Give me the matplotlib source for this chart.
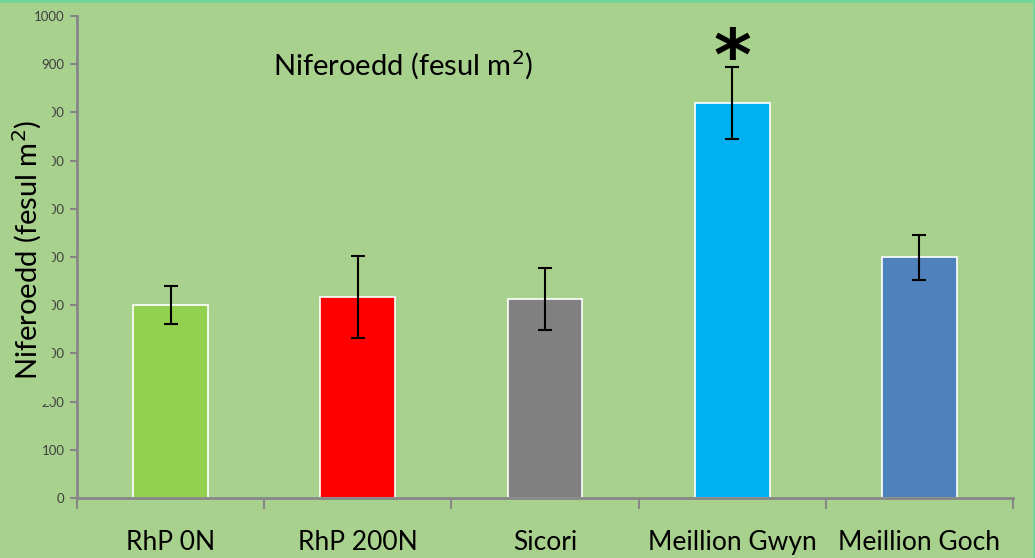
import matplotlib.pyplot as plt
from matplotlib.lines import Line2D
from matplotlib.patches import Rectangle

# data
categories = ["RhP 0N", "RhP 200N", "Sicori", "Meillion Gwyn", "Meillion Goch"]
values = [401, 417, 413, 819, 499]
errors = [39, 86, 65, 75, 46]
colors = ["#92D050", "#FF0000", "#808080", "#00B0F0", "#4F81BD"]
yticks = list(range(0, 1001, 100))
star_idx = 3

BG = "#A9D18E"
BORDER = "#72D59C"
AXIS = "#868686"
W, H = 1035, 558

fig = plt.figure(figsize=(W / 100, H / 100), dpi=100, facecolor=BG)
ax = fig.add_axes([77 / W, 60 / H, 936 / W, 482 / H])
ax.set_facecolor(BG)

x = list(range(len(categories)))
ax.bar(x, values, width=0.4, color=colors, edgecolor="white", linewidth=1.2, zorder=2)
ax.errorbar(x, values, yerr=errors, fmt="none", ecolor="black", elinewidth=1.5,
            capsize=5, capthick=1.5, zorder=3)

ax.set_xlim(-0.5, len(categories) - 0.5)
ax.set_ylim(0, 1000)
ax.set_yticks(yticks)
ax.set_yticklabels([str(t) for t in yticks], fontsize=9.5, color="#404040", family="Lato")
ax.tick_params(axis="y", length=5, width=1.5, color=AXIS, pad=4)

# category labels at bar centres, ticks at category boundaries
ax.set_xticks(x)
ax.set_xticklabels(categories, fontsize=19, family="Lato")
ax.tick_params(axis="x", which="major", length=0, pad=23)
ax.set_xticks([i - 0.5 for i in range(len(categories) + 1)], minor=True)
ax.tick_params(axis="x", which="minor", length=8, width=1.5, color=AXIS)

for s in ["top", "right"]:
    ax.spines[s].set_visible(False)
for s in ["left", "bottom"]:
    ax.spines[s].set_color(AXIS)
    ax.spines[s].set_linewidth(2)

ax.text(0.348, 0.898, "Niferoedd (fesul m$^2$)", transform=ax.transAxes,
        ha="center", va="center", fontsize=21, family="Lato")

# y label sits on a background-coloured box that hides part of the tick labels
fig.add_artist(Rectangle((0, 1 - 404 / H), 52 / W, 299 / H, transform=fig.transFigure,
                         facecolor=BG, edgecolor="none", zorder=5))
fig.text(27 / W, 1 - 250 / H, "Niferoedd (fesul m$^2$)", rotation=90,
         ha="center", va="center", fontsize=21, family="Lato", zorder=6)

# significance star above Meillion Gwyn
ax.annotate("*", xy=(star_idx, values[star_idx] + errors[star_idx]),
            xytext=(0, -9), textcoords="offset points", ha="center",
            va="baseline", fontsize=52, fontweight="bold", family="DejaVu Sans")

# thin border strip along the top and right edge
fig.add_artist(Line2D([0, 1], [1, 1], transform=fig.transFigure, color=BORDER, lw=4))
fig.add_artist(Line2D([1, 1], [0, 1], transform=fig.transFigure, color=BORDER, lw=3))

fig.savefig("out.png", dpi=100, facecolor=BG)
